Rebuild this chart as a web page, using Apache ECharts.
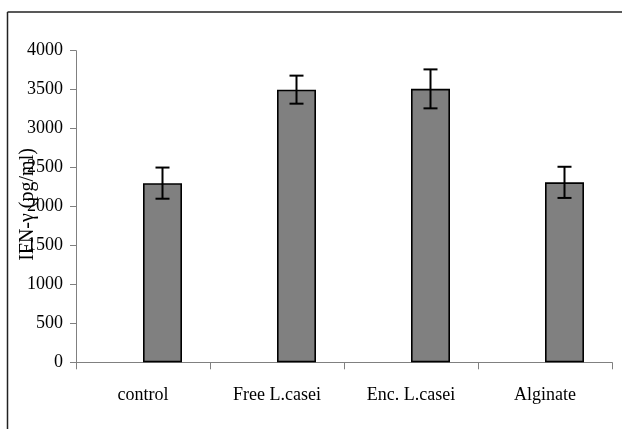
<!DOCTYPE html>
<html>
<head>
<meta charset="utf-8">
<script src="https://cdn.jsdelivr.net/npm/echarts@6/dist/echarts.min.js"></script>
<style>
  html, body { margin: 0; padding: 0; background: #fff; }
  #chart { width: 622px; height: 429px; }
</style>
</head>
<body>
<div id="chart"></div>
<script>
// Groups and measured IFN-γ levels (pg/ml), with their error (±)
const categories = ['control', 'Free L.casei', 'Enc. L.casei', 'Alginate'];
const ifnValues = [2300, 3500, 3510, 2310];
const ifnErrors = [200, 180, 250, 200];
const yTicks = { min: 0, max: 4000, interval: 500 };

const FONT = '"Liberation Serif", "Times New Roman", serif';
const BAR_W = 39;

const chart = echarts.init(document.getElementById('chart'), null, { renderer: 'canvas' });

chart.setOption({
  animation: false,
  backgroundColor: '#ffffff',
  grid: {
    left: 76, right: 10, top: 50.7, bottom: 66.7,
    containLabel: false,
    outerBoundsMode: 'none'
  },
  xAxis: {
    type: 'category',
    data: categories,
    boundaryGap: true,
    axisLine: { lineStyle: { color: '#808080', width: 1 } },
    axisTick: { show: true, alignWithLabel: false, length: 7, lineStyle: { color: '#808080' } },
    axisLabel: { color: '#000', fontFamily: FONT, fontSize: 18, margin: 24 }
  },
  yAxis: {
    type: 'value',
    min: yTicks.min,
    max: yTicks.max,
    interval: yTicks.interval,
    name: 'IFN-γ (pg/ml)',
    nameLocation: 'middle',
    nameGap: 38,
    nameRotate: 90,
    nameMoveOverlap: false,
    nameTextStyle: { color: '#000', fontFamily: FONT, fontSize: 20, padding: [0, 0, 0, 4] },
    axisLine: { show: true, lineStyle: { color: '#808080', width: 1 } },
    axisTick: { show: true, length: 6, lineStyle: { color: '#808080' } },
    splitLine: { show: false },
    axisLabel: {
      color: '#000', fontFamily: FONT, fontSize: 18, margin: 13,
      formatter: v => String(v)
    }
  },
  series: [
    {
      // empty companion slot: the measured bars sit in the right half of each category
      type: 'bar',
      data: categories.map(() => null),
      barWidth: BAR_W,
      barGap: '0%',
      silent: true
    },
    {
      type: 'bar',
      data: ifnValues,
      barWidth: BAR_W,
      barGap: '0%',
      itemStyle: { color: '#808080', borderColor: '#000', borderWidth: 1.6 }
    },
    {
      type: 'custom',
      data: ifnValues.map((v, i) => [i, v, ifnErrors[i]]),
      z: 5,
      renderItem: function (params, api) {
        const i = api.value(0);
        const v = api.value(1);
        const e = api.value(2);
        const hi = api.coord([i, v + e]);
        const lo = api.coord([i, v - e]);
        const x = hi[0] + BAR_W / 2;
        const cap = 7;
        const style = { stroke: '#000', lineWidth: 2, fill: null };
        return {
          type: 'group',
          children: [
            { type: 'line', shape: { x1: x, y1: hi[1], x2: x, y2: lo[1] }, style: style },
            { type: 'line', shape: { x1: x - cap, y1: hi[1], x2: x + cap, y2: hi[1] }, style: style },
            { type: 'line', shape: { x1: x - cap, y1: lo[1], x2: x + cap, y2: lo[1] }, style: style }
          ]
        };
      }
    }
  ],
  graphic: [
    { type: 'line', z: -1, shape: { x1: 7.5, y1: 12, x2: 622, y2: 12 }, style: { stroke: '#222', lineWidth: 1.5 } },
    { type: 'line', z: -1, shape: { x1: 7.5, y1: 12, x2: 7.5, y2: 429 }, style: { stroke: '#222', lineWidth: 1.5 } }
  ]
});
</script>
</body>
</html>
